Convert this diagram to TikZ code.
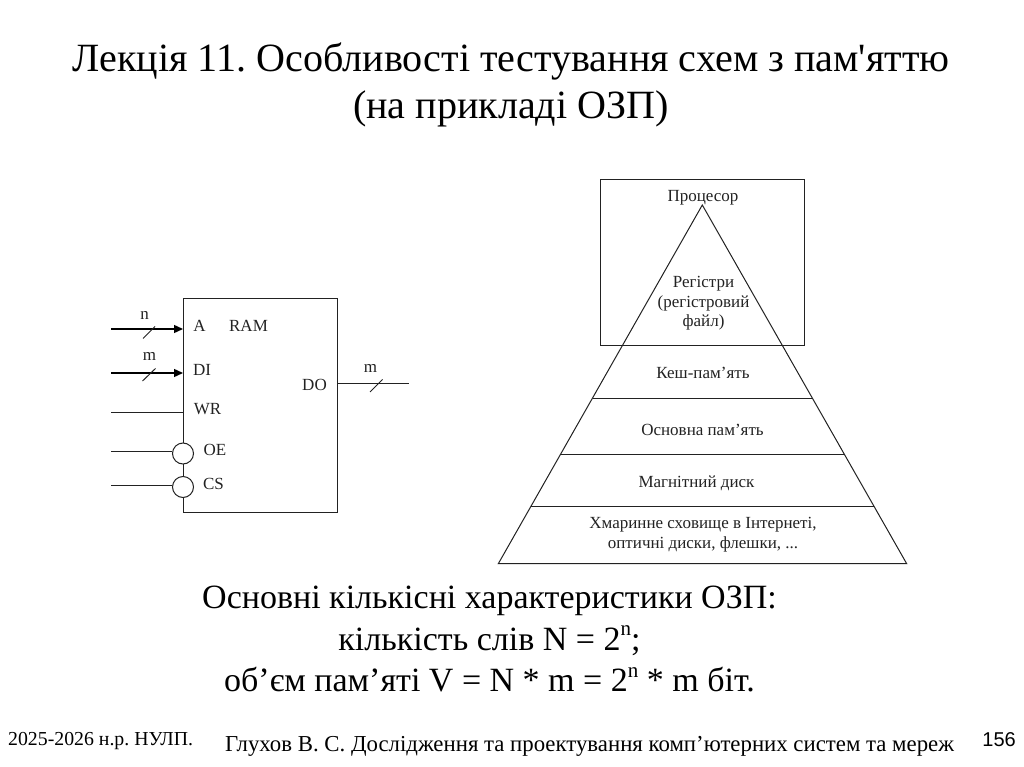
\documentclass[tikz,border=0pt]{standalone}
\usepackage{fontspec}
\setmainfont{Liberation Serif}
\newfontfamily\plainf{Liberation Serif}
\newfontfamily\arialf{Liberation Sans}
\usetikzlibrary{arrows.meta,calc}
\definecolor{ink}{HTML}{222222}
\newcommand{\supn}{\raisebox{0.42em}{\fontsize{21}{21}\selectfont n}}
\tikzset{
  wire/.style={draw=ink,line width=1pt},
  bus/.style={draw=black,line width=1.4pt,-{Triangle[length=9pt,width=8pt]}},
  tick/.style={draw=ink,line width=1pt},
  lab/.style={inner sep=0pt,font=\fontsize{17}{17}\selectfont,text=ink},
  plab/.style={inner sep=0pt,align=center,font=\fontsize{17}{19.5}\selectfont,text=ink},
  bubble/.style={circle,draw=ink,line width=1pt,fill=white,minimum size=21pt,inner sep=0pt},
  heading/.style={inner sep=0pt,align=center,font=\plainf\frenchspacing\fontsize{40.1}{47}\selectfont},
  body/.style={inner sep=0pt,align=center,font=\frenchspacing\fontsize{34}{41.5}\selectfont},
}
\begin{document}
\begin{tikzpicture}[x=1pt,y=-1pt]
\useasboundingbox (0,0) rectangle (1024,767);
% title
\node[heading] (title) at (511,85) {Лекція 11. Особливості тестування схем з пам'яттю\\(на прикладі ОЗП)};
% RAM block
\node[draw=ink,line width=1pt,minimum width=154.5pt,minimum height=214.5pt,inner sep=0pt] (ram) at (260.25,405.25) {};
\coordinate (nA) at (183,329); \coordinate (nAs) at (111,329);
\coordinate (mD) at (183,373); \coordinate (mDs) at (111,373);
\coordinate (wrE) at (183,412); \coordinate (wrS) at (111,412);
\coordinate (oeS) at (111,451); \coordinate (csS) at (111,485);
\coordinate (doS) at (337.5,383); \coordinate (doE) at (409,383);
\node[bubble] (oe) at (183,453.5) {};
\node[bubble] (cs) at (183,487) {};
\draw[bus] (nAs) -- (nA);
\draw[bus] (mDs) -- (mD);
\draw[wire] (wrS) -- (wrE);
\draw[wire] (oeS) -- (oe.west |- oeS);
\draw[wire] (csS) -- (cs.west |- csS);
\draw[wire] (doS) -- (doE);
\coordinate (t1a) at (143,338.5); \coordinate (t1b) at (155,326.5);
\coordinate (t2a) at (142.5,381); \coordinate (t2b) at (155.5,368.5);
\coordinate (t3a) at (370,392); \coordinate (t3b) at (382.5,379.5);
\draw[tick] (t1a) -- (t1b);
\draw[tick] (t2a) -- (t2b);
\draw[tick] (t3a) -- (t3b);
\node[lab] (ln) at (144.5,315) {n};
\node[lab] (lm) at (149.5,356.5) {m};
\node[lab] (lm2) at (370.5,368) {m};
\node[lab] (pA) at (199.5,326) {A};
\node[lab] (pRAM) at (248.5,326) {RAM};
\node[lab] (pDI) at (202,369.5) {DI};
\node[lab] (pWR) at (207.5,409) {WR};
\node[lab] (pOE) at (215,450) {OE};
\node[lab] (pCS) at (213.5,483.5) {CS};
\node[lab] (pDO) at (314.5,385) {DO};
% pyramid
\node[draw=ink,line width=1pt,minimum width=204.5pt,minimum height=166.5pt,inner sep=0pt] (cpu) at (702.25,262.5) {};
\coordinate (apex) at (702.3,205);
\coordinate (bl) at (498.3,563.7);
\coordinate (br) at (906.7,563.7);
\draw[wire,line join=miter] (apex) -- (bl) -- (br) -- cycle;
\coordinate (l1a) at ($(apex)!0.5381!(bl)$); \coordinate (l1b) at ($(apex)!0.5381!(br)$);
\coordinate (l2a) at ($(apex)!0.6950!(bl)$); \coordinate (l2b) at ($(apex)!0.6950!(br)$);
\coordinate (l3a) at ($(apex)!0.8411!(bl)$); \coordinate (l3b) at ($(apex)!0.8411!(br)$);
\draw[wire] (l1a) -- (l1b);
\draw[wire] (l2a) -- (l2b);
\draw[wire] (l3a) -- (l3b);
\node[plab] (tcpu) at (703,197.5) {Процесор};
\node[plab] (treg) at (703.5,303.5) {Регістри\\(регістровий\\файл)};
\node[plab] (tkesh) at (703,372.5) {Кеш-пам’ять};
\node[plab] (tmain) at (702.5,429.5) {Основна пам’ять};
\node[plab] (tdisk) at (696.5,483) {Магнітний диск};
\node[plab] (tcloud) at (703,534.5) {Хмаринне сховище в Інтернеті,\\оптичні диски, флешки, ...};
% characteristics
\node[body] (chars) at (489.5,639) {Основні кількісні характеристики ОЗП:\\кількість слів N = 2\supn;\\об’єм пам’яті V = N * m = 2\supn{} * m біт.};
% footer
\node[inner sep=0pt,anchor=west,font=\frenchspacing\fontsize{19.8}{20}\selectfont] (fl) at (8,741) {2025-2026 н.р. НУЛП.};
\node[inner sep=0pt,anchor=west,font=\frenchspacing\fontsize{22.8}{23}\selectfont] (fc) at (225,746) {Глухов В. С. Дослідження та проектування комп’ютерних систем та мереж};
\node[inner sep=0pt,anchor=east,font=\arialf\fontsize{20}{20}\selectfont] (fr) at (1016,740) {156};
\end{tikzpicture}
\end{document}
